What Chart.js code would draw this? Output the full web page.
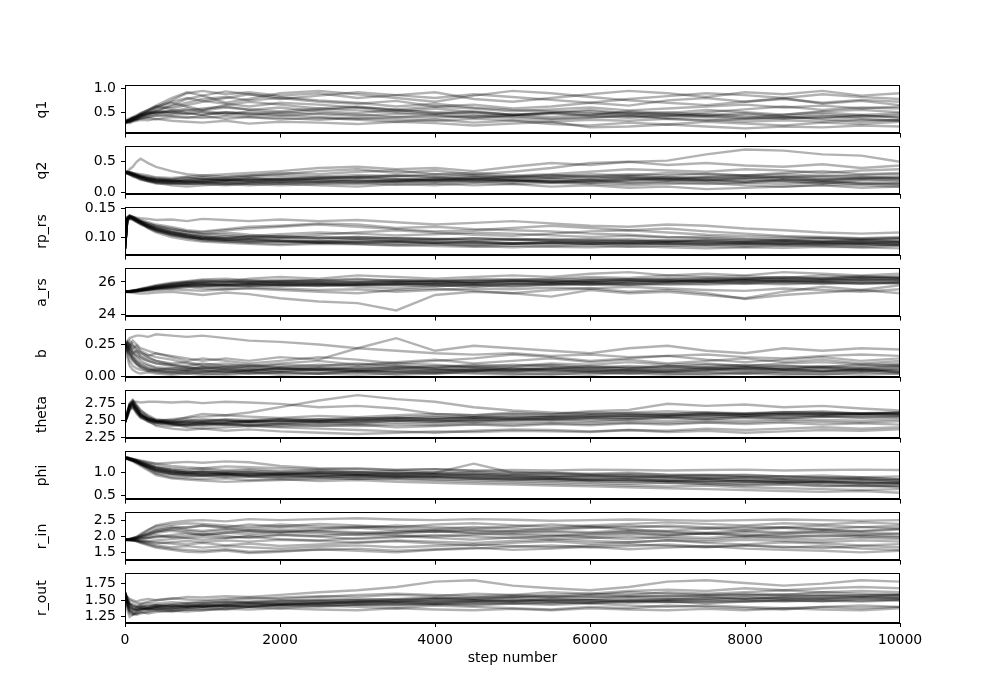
<!DOCTYPE html>
<html>
<head>
<meta charset="utf-8">
<script src="https://cdn.jsdelivr.net/npm/chart.js@4/dist/chart.umd.min.js"></script>
<style>
html,body{margin:0;padding:0;background:#fff;}
#wrap{position:relative;width:1000px;height:700px;overflow:hidden;background:#fff;}
canvas{position:absolute;left:0;}
</style>
</head>
<body>
<div id="wrap"></div>
<script>
// ---- data ----
const steps = [0,30,60,100,150,200,300,400,600,800,1000,1300,1600,2000,2500,3000,3500,4000,4500,5000,5500,6000,6500,7000,7500,8000,8500,9000,9500,10000];
const names = ["q1","q2","rp_rs","a_rs","b","theta","phi","r_in","r_out"];
const yMin = [0.049,-0.029,0.0673,23.87,-0.012,2.232,0.41,1.24,1.157];
const yMax = [1.066,0.749,0.1522,26.83,0.369,2.95,1.47,2.764,1.904];
const yTicks = [[0.5,1.0],[0.0,0.5],[0.10,0.15],[24,26],[0.00,0.25],[2.25,2.50,2.75],[0.5,1.0],[1.5,2.0,2.5],[1.25,1.50,1.75]];
const yTickLabels = [["0.5","1.0"],["0.0","0.5"],["0.10","0.15"],["24","26"],["0.00","0.25"],["2.25","2.50","2.75"],["0.5","1.0"],["1.5","2.0","2.5"],["1.25","1.50","1.75"]];
const xTicks = [0,2000,4000,6000,8000,10000];
const xTickLabels = ["0","2000","4000","6000","8000","10000"];
const xLabel = "step number";

const q1 = [
[0.30,0.32,0.35,0.38,0.42,0.45,0.52,0.60,0.75,0.90,0.95,0.88,0.92,0.85,0.90,0.80,0.86,0.92,0.78,0.72,0.80,0.88,0.95,0.90,0.82,0.92,0.88,0.95,0.85,0.90],
[0.28,0.30,0.33,0.36,0.40,0.43,0.48,0.55,0.62,0.70,0.78,0.82,0.75,0.80,0.72,0.68,0.74,0.62,0.66,0.58,0.62,0.70,0.64,0.75,0.80,0.72,0.78,0.70,0.76,0.72],
[0.31,0.33,0.32,0.35,0.38,0.42,0.45,0.50,0.55,0.52,0.58,0.62,0.55,0.60,0.52,0.48,0.55,0.50,0.45,0.42,0.48,0.44,0.50,0.46,0.42,0.38,0.45,0.50,0.44,0.48],
[0.27,0.29,0.31,0.33,0.36,0.38,0.40,0.42,0.45,0.48,0.44,0.50,0.46,0.42,0.48,0.45,0.40,0.43,0.38,0.42,0.36,0.40,0.44,0.38,0.42,0.45,0.40,0.37,0.42,0.40],
[0.32,0.30,0.34,0.37,0.35,0.40,0.46,0.52,0.65,0.78,0.85,0.70,0.78,0.90,0.95,0.88,0.80,0.72,0.85,0.95,0.90,0.82,0.75,0.70,0.65,0.72,0.80,0.68,0.74,0.65],
[0.29,0.31,0.30,0.32,0.34,0.36,0.38,0.35,0.40,0.38,0.42,0.36,0.40,0.35,0.38,0.34,0.30,0.34,0.28,0.32,0.25,0.22,0.28,0.24,0.30,0.26,0.22,0.28,0.25,0.30],
[0.30,0.28,0.31,0.34,0.39,0.44,0.50,0.58,0.70,0.62,0.55,0.65,0.72,0.66,0.58,0.62,0.55,0.48,0.52,0.45,0.50,0.55,0.48,0.42,0.50,0.56,0.62,0.55,0.60,0.58],
[0.26,0.28,0.27,0.30,0.32,0.34,0.33,0.36,0.32,0.30,0.28,0.32,0.26,0.30,0.28,0.25,0.30,0.27,0.22,0.26,0.30,0.18,0.20,0.24,0.20,0.16,0.20,0.18,0.22,0.20],
[0.33,0.35,0.37,0.40,0.44,0.48,0.55,0.62,0.58,0.65,0.72,0.80,0.88,0.82,0.75,0.70,0.62,0.68,0.60,0.55,0.52,0.48,0.42,0.45,0.40,0.35,0.38,0.42,0.36,0.33],
[0.30,0.31,0.29,0.33,0.37,0.41,0.47,0.50,0.48,0.55,0.50,0.45,0.52,0.48,0.55,0.60,0.52,0.58,0.50,0.45,0.40,0.45,0.52,0.48,0.55,0.50,0.45,0.52,0.55,0.50],
[0.30,0.31,0.33,0.36,0.40,0.44,0.48,0.52,0.50,0.46,0.52,0.48,0.44,0.50,0.46,0.42,0.47,0.44,0.40,0.44,0.48,0.42,0.38,0.42,0.46,0.40,0.36,0.40,0.44,0.38],
[0.29,0.30,0.32,0.34,0.37,0.40,0.44,0.47,0.52,0.58,0.54,0.60,0.56,0.52,0.58,0.54,0.50,0.46,0.50,0.44,0.48,0.52,0.46,0.50,0.44,0.48,0.42,0.46,0.40,0.44],
[0.31,0.32,0.34,0.37,0.41,0.46,0.54,0.62,0.72,0.80,0.74,0.68,0.62,0.70,0.66,0.60,0.56,0.62,0.58,0.52,0.56,0.60,0.54,0.58,0.62,0.66,0.60,0.64,0.58,0.62],
[0.28,0.29,0.30,0.32,0.35,0.37,0.40,0.44,0.42,0.40,0.38,0.42,0.40,0.38,0.34,0.38,0.35,0.32,0.36,0.33,0.30,0.34,0.32,0.36,0.34,0.30,0.33,0.30,0.34,0.32],
[0.30,0.32,0.34,0.38,0.42,0.47,0.55,0.64,0.80,0.92,0.85,0.94,0.88,0.78,0.85,0.92,0.86,0.80,0.88,0.82,0.76,0.70,0.78,0.84,0.90,0.86,0.80,0.88,0.82,0.78],
[0.32,0.33,0.35,0.38,0.40,0.44,0.50,0.48,0.52,0.48,0.45,0.50,0.48,0.44,0.40,0.36,0.40,0.38,0.42,0.38,0.35,0.38,0.42,0.36,0.32,0.36,0.40,0.35,0.30,0.34]
];
const q2 = [
[0.34,0.35,0.38,0.42,0.50,0.55,0.48,0.42,0.35,0.30,0.28,0.30,0.32,0.35,0.40,0.42,0.38,0.40,0.35,0.42,0.48,0.45,0.50,0.52,0.62,0.70,0.68,0.62,0.60,0.50],
[0.33,0.32,0.30,0.28,0.26,0.25,0.22,0.20,0.18,0.20,0.22,0.25,0.28,0.30,0.35,0.38,0.32,0.36,0.30,0.34,0.40,0.48,0.50,0.45,0.48,0.44,0.42,0.46,0.40,0.44],
[0.32,0.31,0.30,0.27,0.25,0.22,0.18,0.15,0.14,0.16,0.18,0.15,0.17,0.20,0.18,0.22,0.20,0.24,0.20,0.18,0.22,0.20,0.16,0.18,0.20,0.22,0.18,0.15,0.20,0.18],
[0.34,0.33,0.31,0.29,0.28,0.26,0.24,0.22,0.20,0.18,0.20,0.22,0.20,0.24,0.22,0.26,0.28,0.25,0.28,0.24,0.26,0.30,0.28,0.32,0.30,0.28,0.32,0.35,0.30,0.32],
[0.33,0.34,0.32,0.30,0.27,0.24,0.20,0.16,0.12,0.10,0.12,0.14,0.12,0.15,0.12,0.10,0.14,0.12,0.16,0.14,0.10,0.12,0.08,0.10,0.06,0.08,0.10,0.12,0.08,0.10],
[0.32,0.33,0.34,0.32,0.30,0.28,0.26,0.24,0.22,0.25,0.22,0.20,0.24,0.22,0.26,0.24,0.28,0.26,0.22,0.26,0.24,0.22,0.26,0.24,0.20,0.24,0.26,0.22,0.25,0.22],
[0.33,0.32,0.33,0.31,0.29,0.27,0.23,0.21,0.20,0.18,0.16,0.18,0.20,0.18,0.22,0.20,0.18,0.16,0.20,0.22,0.18,0.16,0.20,0.26,0.22,0.18,0.22,0.20,0.16,0.14],
[0.34,0.33,0.31,0.30,0.28,0.25,0.22,0.19,0.17,0.15,0.14,0.12,0.15,0.18,0.16,0.14,0.18,0.22,0.25,0.20,0.16,0.18,0.22,0.20,0.24,0.26,0.22,0.20,0.24,0.26],
[0.33,0.34,0.33,0.32,0.31,0.30,0.28,0.25,0.24,0.26,0.28,0.26,0.28,0.32,0.30,0.34,0.36,0.30,0.32,0.28,0.30,0.34,0.38,0.36,0.34,0.38,0.36,0.32,0.36,0.38],
[0.32,0.31,0.29,0.26,0.24,0.21,0.19,0.17,0.16,0.14,0.15,0.17,0.14,0.12,0.14,0.16,0.13,0.15,0.12,0.14,0.16,0.14,0.12,0.14,0.16,0.12,0.10,0.13,0.12,0.10],
[0.33,0.32,0.31,0.29,0.27,0.25,0.21,0.19,0.18,0.20,0.19,0.21,0.19,0.22,0.20,0.18,0.21,0.19,0.22,0.20,0.18,0.21,0.19,0.22,0.20,0.18,0.21,0.19,0.22,0.20],
[0.34,0.33,0.32,0.30,0.28,0.26,0.23,0.21,0.19,0.17,0.19,0.21,0.23,0.21,0.24,0.26,0.23,0.21,0.24,0.26,0.28,0.25,0.27,0.24,0.26,0.28,0.25,0.28,0.26,0.24],
[0.32,0.31,0.30,0.28,0.26,0.23,0.20,0.18,0.15,0.14,0.16,0.14,0.16,0.15,0.17,0.19,0.17,0.19,0.17,0.20,0.18,0.20,0.23,0.21,0.18,0.16,0.19,0.17,0.14,0.16],
[0.33,0.33,0.32,0.31,0.29,0.27,0.24,0.22,0.21,0.23,0.25,0.23,0.26,0.28,0.26,0.29,0.27,0.30,0.28,0.26,0.29,0.27,0.30,0.28,0.31,0.28,0.30,0.27,0.29,0.30],
[0.34,0.32,0.30,0.28,0.25,0.23,0.19,0.17,0.16,0.18,0.17,0.19,0.18,0.16,0.18,0.17,0.19,0.21,0.19,0.17,0.19,0.17,0.15,0.17,0.14,0.16,0.14,0.17,0.15,0.13],
[0.33,0.34,0.33,0.31,0.28,0.26,0.22,0.20,0.19,0.21,0.23,0.20,0.22,0.20,0.23,0.25,0.22,0.20,0.23,0.21,0.24,0.26,0.24,0.22,0.25,0.23,0.26,0.24,0.22,0.24]
];
const rp_rs = [
[0.078,0.135,0.138,0.136,0.134,0.133,0.132,0.130,0.131,0.128,0.132,0.130,0.128,0.131,0.128,0.130,0.126,0.122,0.125,0.128,0.124,0.120,0.118,0.122,0.120,0.115,0.112,0.108,0.106,0.108],
[0.080,0.132,0.136,0.134,0.130,0.128,0.124,0.120,0.115,0.110,0.108,0.112,0.115,0.118,0.122,0.118,0.114,0.110,0.112,0.116,0.120,0.116,0.112,0.115,0.110,0.106,0.102,0.100,0.098,0.100],
[0.079,0.130,0.134,0.132,0.128,0.125,0.118,0.112,0.105,0.100,0.098,0.095,0.097,0.094,0.092,0.095,0.093,0.090,0.092,0.089,0.091,0.090,0.088,0.090,0.091,0.089,0.087,0.089,0.090,0.088],
[0.081,0.128,0.133,0.131,0.127,0.124,0.120,0.116,0.110,0.105,0.102,0.098,0.100,0.102,0.098,0.100,0.097,0.095,0.098,0.096,0.094,0.096,0.094,0.092,0.095,0.093,0.094,0.092,0.095,0.093],
[0.078,0.134,0.137,0.135,0.131,0.126,0.115,0.108,0.100,0.095,0.092,0.090,0.088,0.086,0.088,0.087,0.085,0.087,0.084,0.082,0.084,0.086,0.083,0.085,0.084,0.083,0.085,0.084,0.082,0.085],
[0.080,0.131,0.135,0.133,0.129,0.127,0.122,0.118,0.112,0.108,0.105,0.108,0.104,0.100,0.104,0.108,0.112,0.108,0.104,0.102,0.106,0.110,0.112,0.108,0.104,0.102,0.100,0.098,0.096,0.098],
[0.079,0.133,0.136,0.134,0.130,0.126,0.119,0.114,0.106,0.101,0.097,0.095,0.092,0.094,0.090,0.092,0.094,0.092,0.090,0.088,0.090,0.092,0.090,0.088,0.086,0.088,0.090,0.088,0.086,0.087],
[0.081,0.129,0.132,0.130,0.126,0.122,0.116,0.110,0.104,0.099,0.096,0.094,0.096,0.093,0.091,0.089,0.091,0.088,0.086,0.088,0.090,0.088,0.090,0.092,0.089,0.091,0.089,0.091,0.089,0.091],
[0.078,0.135,0.138,0.136,0.133,0.130,0.126,0.122,0.118,0.112,0.110,0.114,0.118,0.120,0.124,0.122,0.116,0.118,0.114,0.112,0.110,0.106,0.104,0.100,0.098,0.096,0.094,0.096,0.094,0.096],
[0.080,0.130,0.134,0.132,0.128,0.123,0.117,0.111,0.103,0.098,0.094,0.092,0.090,0.088,0.090,0.088,0.086,0.084,0.083,0.085,0.083,0.082,0.084,0.082,0.080,0.082,0.081,0.083,0.082,0.080],
[0.080,0.133,0.136,0.134,0.130,0.126,0.118,0.112,0.104,0.100,0.097,0.099,0.096,0.098,0.095,0.097,0.094,0.096,0.093,0.095,0.093,0.091,0.093,0.091,0.093,0.090,0.092,0.090,0.092,0.090],
[0.079,0.131,0.135,0.133,0.129,0.125,0.120,0.114,0.108,0.103,0.100,0.102,0.099,0.101,0.098,0.100,0.098,0.096,0.098,0.095,0.097,0.095,0.096,0.094,0.096,0.094,0.095,0.093,0.094,0.092],
[0.081,0.134,0.137,0.135,0.131,0.127,0.121,0.115,0.108,0.102,0.096,0.093,0.091,0.092,0.090,0.091,0.089,0.090,0.088,0.089,0.087,0.088,0.087,0.089,0.087,0.088,0.086,0.087,0.088,0.086],
[0.078,0.132,0.136,0.134,0.131,0.128,0.123,0.119,0.114,0.110,0.106,0.104,0.101,0.098,0.100,0.097,0.099,0.097,0.095,0.097,0.095,0.093,0.092,0.094,0.092,0.091,0.093,0.091,0.090,0.091],
[0.080,0.130,0.134,0.132,0.128,0.124,0.118,0.113,0.107,0.104,0.101,0.098,0.102,0.105,0.108,0.106,0.103,0.105,0.108,0.106,0.103,0.100,0.102,0.099,0.101,0.098,0.097,0.099,0.097,0.098],
[0.079,0.133,0.137,0.135,0.132,0.128,0.121,0.116,0.109,0.104,0.099,0.096,0.094,0.092,0.093,0.091,0.092,0.090,0.091,0.089,0.090,0.088,0.089,0.087,0.088,0.086,0.088,0.086,0.087,0.085]
];
const a_rs = [
[25.40,25.38,25.35,25.33,25.30,25.28,25.30,25.35,25.40,25.30,25.20,25.35,25.25,25.00,24.80,24.70,24.25,25.20,25.40,25.30,25.10,25.50,25.30,25.40,25.20,25.00,25.40,25.70,25.50,25.80],
[25.42,25.40,25.42,25.45,25.50,25.55,25.65,25.75,25.90,26.00,26.10,26.00,26.20,26.30,26.20,26.40,26.30,26.20,26.30,26.40,26.30,26.50,26.60,26.40,26.50,26.40,26.60,26.50,26.40,26.50],
[25.40,25.41,25.43,25.46,25.48,25.52,25.60,25.68,25.75,25.82,25.90,25.80,25.85,25.95,25.90,25.80,25.85,25.90,25.95,26.00,25.95,26.05,26.10,26.00,26.15,26.10,26.20,26.15,26.25,26.20],
[25.38,25.39,25.40,25.42,25.45,25.48,25.55,25.62,25.70,25.80,25.75,25.70,25.80,25.75,25.85,25.70,25.60,25.75,25.80,25.70,25.85,25.90,25.80,25.95,26.00,25.90,26.05,26.00,25.90,25.95],
[25.41,25.40,25.38,25.40,25.42,25.46,25.52,25.58,25.64,25.70,25.60,25.55,25.65,25.60,25.50,25.55,25.40,25.50,25.60,25.55,25.65,25.60,25.70,25.60,25.50,25.45,25.60,25.50,25.40,25.55],
[25.40,25.42,25.44,25.48,25.52,25.58,25.70,25.80,25.95,26.05,26.15,26.20,26.10,26.00,26.10,26.20,26.05,26.10,26.00,26.10,26.20,26.30,26.25,26.40,26.30,26.35,26.25,26.40,26.30,26.35],
[25.39,25.38,25.40,25.41,25.43,25.45,25.50,25.55,25.60,25.68,25.75,25.85,25.90,25.80,25.75,25.85,25.90,25.80,25.70,25.85,25.90,25.80,25.95,26.05,26.00,26.10,26.00,25.90,26.00,25.90],
[25.40,25.39,25.41,25.43,25.47,25.50,25.58,25.65,25.80,25.90,26.00,26.05,25.95,26.05,26.10,26.00,26.10,26.05,26.15,26.10,26.00,26.10,26.15,26.20,26.10,26.20,26.30,26.20,26.35,26.25],
[25.42,25.41,25.40,25.39,25.40,25.42,25.45,25.50,25.55,25.50,25.45,25.55,25.60,25.50,25.40,25.30,25.50,25.60,25.45,25.30,25.50,25.60,25.40,25.50,25.30,24.95,25.20,25.35,25.50,25.30],
[25.41,25.43,25.45,25.47,25.50,25.54,25.62,25.72,25.85,25.95,25.90,25.95,26.05,25.95,25.90,26.00,25.95,26.05,25.95,26.05,26.10,26.00,26.05,26.10,26.05,26.15,26.10,26.05,26.15,26.10],
[25.40,25.41,25.42,25.44,25.47,25.50,25.57,25.64,25.76,25.86,25.92,25.88,25.94,25.90,25.96,25.92,25.98,25.94,25.90,25.96,26.00,25.96,26.02,26.06,26.02,26.08,26.04,26.10,26.06,26.12],
[25.41,25.40,25.41,25.43,25.46,25.49,25.55,25.62,25.72,25.80,25.85,25.82,25.88,25.84,25.80,25.86,25.82,25.88,25.92,25.88,25.94,25.98,25.94,26.00,26.04,26.00,26.06,26.10,26.14,26.08],
[25.39,25.40,25.42,25.45,25.49,25.53,25.61,25.70,25.82,25.92,25.98,26.02,25.98,26.04,26.00,25.96,26.02,25.98,26.04,26.08,26.04,26.10,26.14,26.10,26.16,26.20,26.16,26.22,26.18,26.24],
[25.40,25.39,25.40,25.42,25.44,25.47,25.53,25.60,25.68,25.76,25.82,25.78,25.74,25.80,25.76,25.82,25.78,25.74,25.80,25.76,25.82,25.86,25.82,25.88,25.84,25.90,25.86,25.92,25.88,25.94],
[25.41,25.42,25.43,25.46,25.50,25.55,25.64,25.74,25.88,25.98,26.05,26.10,26.06,26.12,26.08,26.14,26.10,26.06,26.12,26.18,26.14,26.20,26.16,26.22,26.26,26.22,26.28,26.24,26.30,26.26],
[25.40,25.41,25.41,25.43,25.46,25.48,25.54,25.60,25.70,25.78,25.72,25.80,25.76,25.84,25.88,25.84,25.90,25.86,25.82,25.88,25.84,25.92,25.88,25.84,25.90,25.96,25.92,25.98,25.94,26.00]
];
const b = [
[0.25,0.28,0.30,0.31,0.32,0.32,0.31,0.33,0.32,0.31,0.32,0.30,0.28,0.27,0.25,0.22,0.20,0.18,0.17,0.18,0.16,0.17,0.15,0.16,0.17,0.15,0.14,0.16,0.17,0.16],
[0.24,0.26,0.22,0.28,0.25,0.22,0.20,0.18,0.16,0.14,0.12,0.14,0.12,0.15,0.13,0.22,0.30,0.20,0.24,0.22,0.20,0.18,0.22,0.24,0.20,0.18,0.22,0.20,0.22,0.21],
[0.26,0.22,0.18,0.15,0.12,0.10,0.08,0.06,0.05,0.04,0.05,0.03,0.04,0.06,0.04,0.03,0.05,0.04,0.06,0.04,0.03,0.05,0.04,0.03,0.05,0.04,0.06,0.04,0.03,0.05],
[0.25,0.20,0.24,0.18,0.20,0.16,0.14,0.12,0.10,0.11,0.09,0.10,0.08,0.10,0.12,0.09,0.11,0.13,0.10,0.12,0.14,0.11,0.13,0.10,0.12,0.14,0.11,0.13,0.10,0.12],
[0.24,0.15,0.08,0.05,0.03,0.02,0.03,0.02,0.01,0.02,0.01,0.02,0.03,0.01,0.02,0.01,0.02,0.03,0.02,0.01,0.02,0.01,0.03,0.02,0.01,0.02,0.01,0.02,0.01,0.02],
[0.25,0.27,0.25,0.22,0.24,0.20,0.17,0.15,0.13,0.10,0.08,0.07,0.06,0.05,0.07,0.06,0.08,0.06,0.05,0.07,0.09,0.07,0.06,0.08,0.07,0.09,0.08,0.07,0.09,0.08],
[0.26,0.24,0.20,0.16,0.12,0.09,0.06,0.04,0.03,0.02,0.03,0.04,0.02,0.03,0.02,0.04,0.03,0.02,0.04,0.03,0.05,0.03,0.02,0.04,0.03,0.02,0.04,0.03,0.05,0.03],
[0.25,0.23,0.26,0.24,0.20,0.18,0.16,0.18,0.15,0.12,0.14,0.12,0.10,0.12,0.15,0.13,0.10,0.12,0.14,0.17,0.15,0.12,0.14,0.16,0.13,0.11,0.13,0.15,0.12,0.14],
[0.24,0.18,0.12,0.08,0.06,0.05,0.04,0.05,0.06,0.05,0.07,0.05,0.04,0.06,0.05,0.04,0.06,0.05,0.04,0.05,0.07,0.05,0.04,0.06,0.05,0.07,0.05,0.06,0.04,0.06],
[0.25,0.26,0.28,0.25,0.22,0.19,0.15,0.12,0.09,0.07,0.06,0.08,0.07,0.09,0.08,0.10,0.08,0.07,0.09,0.08,0.10,0.09,0.11,0.09,0.10,0.08,0.10,0.11,0.09,0.10],
[0.25,0.21,0.16,0.12,0.09,0.07,0.05,0.04,0.03,0.04,0.03,0.05,0.04,0.03,0.05,0.04,0.03,0.05,0.04,0.06,0.04,0.03,0.05,0.04,0.06,0.05,0.03,0.04,0.06,0.04],
[0.24,0.25,0.22,0.19,0.15,0.12,0.09,0.07,0.06,0.07,0.05,0.06,0.08,0.06,0.05,0.07,0.06,0.08,0.07,0.05,0.06,0.08,0.07,0.05,0.07,0.06,0.08,0.07,0.05,0.07],
[0.26,0.23,0.19,0.14,0.10,0.07,0.04,0.03,0.02,0.03,0.02,0.01,0.02,0.03,0.02,0.03,0.01,0.02,0.03,0.02,0.01,0.03,0.02,0.01,0.02,0.03,0.02,0.01,0.03,0.02],
[0.25,0.27,0.24,0.21,0.18,0.15,0.12,0.10,0.09,0.08,0.10,0.08,0.09,0.07,0.09,0.08,0.10,0.09,0.07,0.09,0.08,0.06,0.08,0.07,0.09,0.08,0.06,0.08,0.07,0.09],
[0.24,0.20,0.17,0.13,0.10,0.08,0.06,0.05,0.04,0.05,0.04,0.03,0.05,0.04,0.06,0.05,0.04,0.03,0.05,0.04,0.06,0.04,0.05,0.03,0.04,0.06,0.05,0.04,0.05,0.03],
[0.26,0.24,0.21,0.18,0.16,0.14,0.12,0.10,0.08,0.06,0.07,0.06,0.05,0.07,0.06,0.05,0.07,0.06,0.08,0.06,0.05,0.07,0.06,0.08,0.06,0.07,0.05,0.07,0.06,0.08]
];
const theta = [
[2.48,2.60,2.72,2.78,2.78,2.77,2.78,2.78,2.77,2.78,2.76,2.78,2.77,2.75,2.70,2.72,2.68,2.60,2.58,2.62,2.60,2.64,2.66,2.75,2.72,2.74,2.70,2.72,2.68,2.65],
[2.48,2.62,2.75,2.80,2.72,2.65,2.58,2.52,2.50,2.55,2.60,2.58,2.62,2.70,2.80,2.88,2.82,2.78,2.70,2.65,2.62,2.60,2.62,2.64,2.62,2.60,2.62,2.64,2.60,2.62],
[2.47,2.58,2.70,2.74,2.65,2.58,2.52,2.48,2.46,2.48,2.45,2.47,2.50,2.48,2.52,2.50,2.54,2.52,2.55,2.53,2.56,2.55,2.58,2.57,2.60,2.58,2.60,2.59,2.61,2.60],
[2.48,2.55,2.66,2.72,2.62,2.55,2.48,2.44,2.42,2.44,2.46,2.44,2.42,2.45,2.48,2.46,2.50,2.48,2.52,2.50,2.53,2.55,2.54,2.56,2.55,2.57,2.56,2.58,2.57,2.58],
[2.49,2.60,2.73,2.76,2.68,2.60,2.50,2.42,2.38,2.36,2.38,2.35,2.37,2.34,2.32,2.30,2.32,2.34,2.33,2.35,2.34,2.33,2.36,2.35,2.38,2.36,2.38,2.40,2.38,2.40],
[2.48,2.57,2.68,2.70,2.60,2.54,2.50,2.47,2.48,2.50,2.52,2.50,2.48,2.50,2.47,2.49,2.52,2.50,2.48,2.51,2.53,2.50,2.52,2.54,2.52,2.55,2.53,2.56,2.54,2.55],
[2.47,2.63,2.76,2.81,2.74,2.66,2.56,2.50,2.46,2.42,2.44,2.46,2.43,2.45,2.42,2.44,2.40,2.42,2.44,2.42,2.45,2.43,2.46,2.44,2.47,2.45,2.47,2.44,2.46,2.44],
[2.48,2.59,2.71,2.75,2.66,2.58,2.53,2.50,2.49,2.47,2.49,2.51,2.49,2.52,2.50,2.53,2.55,2.57,2.55,2.58,2.57,2.59,2.60,2.59,2.61,2.60,2.62,2.61,2.60,2.61],
[2.48,2.61,2.74,2.78,2.70,2.62,2.55,2.50,2.45,2.40,2.38,2.40,2.42,2.40,2.38,2.36,2.34,2.32,2.35,2.37,2.36,2.34,2.36,2.33,2.35,2.32,2.34,2.36,2.35,2.37],
[2.48,2.56,2.65,2.70,2.63,2.57,2.52,2.49,2.52,2.54,2.56,2.58,2.56,2.54,2.57,2.55,2.58,2.60,2.58,2.60,2.59,2.62,2.61,2.60,2.62,2.61,2.63,2.62,2.61,2.62],
[2.48,2.60,2.72,2.76,2.67,2.59,2.52,2.49,2.47,2.49,2.48,2.50,2.48,2.50,2.49,2.51,2.50,2.52,2.51,2.53,2.52,2.54,2.55,2.56,2.57,2.56,2.58,2.57,2.59,2.58],
[2.47,2.58,2.70,2.74,2.65,2.57,2.51,2.48,2.46,2.45,2.47,2.46,2.48,2.47,2.49,2.48,2.50,2.49,2.51,2.52,2.51,2.53,2.52,2.54,2.53,2.55,2.54,2.56,2.55,2.56],
[2.48,2.62,2.74,2.79,2.70,2.61,2.54,2.51,2.50,2.51,2.50,2.52,2.51,2.53,2.52,2.54,2.53,2.55,2.54,2.56,2.55,2.57,2.58,2.57,2.59,2.58,2.60,2.59,2.60,2.59],
[2.49,2.57,2.68,2.72,2.64,2.56,2.49,2.46,2.44,2.43,2.45,2.44,2.46,2.44,2.46,2.45,2.47,2.46,2.48,2.47,2.49,2.48,2.50,2.49,2.51,2.50,2.52,2.51,2.50,2.52],
[2.48,2.61,2.73,2.77,2.69,2.60,2.53,2.49,2.48,2.46,2.48,2.47,2.49,2.51,2.50,2.52,2.54,2.53,2.55,2.54,2.56,2.58,2.57,2.59,2.58,2.60,2.59,2.61,2.60,2.62],
[2.48,2.59,2.71,2.75,2.66,2.58,2.51,2.47,2.45,2.44,2.42,2.44,2.43,2.41,2.43,2.42,2.44,2.43,2.45,2.44,2.46,2.45,2.47,2.46,2.48,2.47,2.49,2.48,2.47,2.49]
];
const phi = [
[1.32,1.33,1.31,1.30,1.28,1.26,1.22,1.20,1.22,1.24,1.22,1.25,1.23,1.15,1.10,1.08,1.06,1.08,1.05,1.06,1.05,1.07,1.06,1.05,1.06,1.07,1.05,1.06,1.07,1.06],
[1.33,1.32,1.30,1.28,1.25,1.22,1.15,1.08,1.02,1.00,1.02,0.98,1.00,0.96,0.98,0.95,0.97,0.94,0.96,0.92,0.90,0.88,0.90,0.86,0.88,0.84,0.86,0.82,0.84,0.80],
[1.32,1.30,1.28,1.26,1.22,1.18,1.10,1.00,0.95,0.92,0.94,0.90,0.92,0.88,0.90,0.86,0.88,0.85,0.84,0.82,0.80,0.78,0.76,0.78,0.75,0.72,0.74,0.70,0.72,0.68],
[1.34,1.33,1.32,1.30,1.27,1.25,1.20,1.15,1.10,1.08,1.10,1.06,1.08,1.04,1.06,1.02,1.04,1.00,1.02,0.98,1.00,0.96,0.98,0.95,0.96,0.94,0.92,0.94,0.90,0.92],
[1.31,1.30,1.29,1.27,1.23,1.18,1.08,0.98,0.90,0.88,0.86,0.88,0.84,0.86,0.82,0.84,0.80,0.78,0.76,0.74,0.72,0.70,0.68,0.66,0.64,0.62,0.60,0.58,0.60,0.56],
[1.33,1.34,1.32,1.31,1.29,1.27,1.24,1.20,1.15,1.12,1.10,1.14,1.12,1.10,1.08,1.10,1.06,1.08,1.04,1.02,1.00,0.98,1.00,0.96,0.94,0.96,0.92,0.90,0.88,0.86],
[1.32,1.31,1.30,1.28,1.24,1.20,1.12,1.04,0.98,0.96,0.98,0.95,0.97,0.94,0.92,0.94,0.90,0.92,0.90,0.88,0.86,0.84,0.86,0.82,0.80,0.82,0.78,0.80,0.76,0.78],
[1.34,1.32,1.31,1.29,1.26,1.23,1.18,1.12,1.06,1.03,1.00,1.02,1.00,0.98,1.00,0.97,0.95,0.97,0.94,0.92,0.90,0.92,0.88,0.90,0.86,0.84,0.82,0.80,0.78,0.76],
[1.33,1.31,1.28,1.25,1.20,1.15,1.05,0.95,0.88,0.85,0.83,0.80,0.82,0.84,0.86,0.88,0.85,0.83,0.80,0.78,0.76,0.74,0.72,0.70,0.72,0.68,0.66,0.64,0.62,0.64],
[1.32,1.33,1.31,1.29,1.26,1.22,1.16,1.10,1.04,1.00,0.96,0.98,0.94,0.96,1.00,1.02,0.98,1.00,1.20,1.00,0.98,0.96,0.94,0.92,0.94,0.90,0.92,0.88,0.90,0.86],
[1.33,1.32,1.30,1.28,1.25,1.21,1.14,1.06,1.00,0.98,0.96,0.98,0.95,0.97,0.94,0.96,0.93,0.95,0.92,0.90,0.88,0.86,0.84,0.82,0.84,0.80,0.82,0.78,0.80,0.78],
[1.32,1.31,1.29,1.27,1.24,1.20,1.13,1.07,1.02,0.99,1.01,0.98,0.96,0.99,0.97,0.95,0.93,0.91,0.89,0.87,0.86,0.84,0.85,0.82,0.83,0.81,0.79,0.81,0.78,0.76],
[1.34,1.33,1.31,1.29,1.26,1.22,1.16,1.10,1.04,1.00,1.03,1.00,1.02,0.99,1.01,0.98,1.00,0.97,0.98,0.95,0.93,0.94,0.91,0.92,0.89,0.90,0.87,0.88,0.85,0.84],
[1.33,1.32,1.31,1.28,1.24,1.19,1.11,1.03,0.97,0.94,0.92,0.94,0.91,0.93,0.90,0.92,0.89,0.90,0.87,0.85,0.83,0.81,0.80,0.78,0.76,0.74,0.76,0.72,0.70,0.72],
[1.32,1.33,1.32,1.30,1.27,1.24,1.18,1.12,1.07,1.04,1.06,1.03,1.05,1.02,1.04,1.01,0.99,1.01,0.98,0.96,0.94,0.92,0.94,0.90,0.88,0.90,0.86,0.84,0.86,0.82],
[1.33,1.31,1.29,1.27,1.23,1.19,1.12,1.05,0.99,0.96,0.94,0.96,0.93,0.91,0.93,0.90,0.92,0.89,0.87,0.85,0.87,0.83,0.81,0.83,0.79,0.77,0.79,0.75,0.73,0.70]
];
const r_in = [
[1.90,1.91,1.92,1.94,1.98,2.05,2.20,2.35,2.45,2.50,2.52,2.48,2.55,2.52,2.55,2.58,2.54,2.52,2.55,2.53,2.50,2.52,2.54,2.52,2.50,2.52,2.54,2.52,2.50,2.52],
[1.90,1.89,1.90,1.88,1.86,1.82,1.75,1.68,1.62,1.58,1.55,1.60,1.52,1.55,1.58,1.62,1.55,1.60,1.65,1.58,1.62,1.68,1.60,1.65,1.70,1.62,1.58,1.55,1.50,1.55],
[1.91,1.90,1.92,1.93,1.95,1.98,2.05,2.15,2.25,2.30,2.35,2.30,2.38,2.32,2.40,2.35,2.30,2.38,2.42,2.36,2.30,2.35,2.40,2.45,2.40,2.35,2.42,2.38,2.45,2.40],
[1.89,1.90,1.89,1.91,1.90,1.92,1.95,2.00,2.05,2.10,2.05,2.12,2.08,2.15,2.10,2.05,2.12,2.18,2.10,2.05,2.00,2.08,2.12,2.05,2.10,2.02,2.08,2.12,2.05,2.10],
[1.90,1.91,1.90,1.89,1.88,1.86,1.84,1.82,1.78,1.75,1.80,1.72,1.78,1.70,1.75,1.80,1.85,1.78,1.72,1.80,1.85,1.78,1.82,1.88,1.80,1.75,1.82,1.78,1.72,1.76],
[1.90,1.91,1.92,1.95,1.98,2.02,2.10,2.20,2.28,2.22,2.18,2.25,2.20,2.15,2.22,2.28,2.20,2.15,2.22,2.18,2.25,2.30,2.22,2.18,2.25,2.20,2.28,2.22,2.18,2.25],
[1.91,1.90,1.91,1.90,1.92,1.94,1.96,1.98,2.00,1.95,1.90,1.95,2.00,1.92,1.88,1.95,2.02,1.96,1.90,1.98,1.92,1.95,2.00,1.94,1.90,1.98,1.94,1.90,1.96,1.92],
[1.90,1.89,1.88,1.87,1.85,1.80,1.72,1.65,1.58,1.52,1.50,1.56,1.48,1.52,1.60,1.55,1.50,1.58,1.62,1.68,1.72,1.66,1.70,1.75,1.68,1.72,1.65,1.70,1.62,1.58],
[1.90,1.91,1.93,1.96,2.00,2.08,2.22,2.32,2.38,2.42,2.40,2.35,2.30,2.38,2.32,2.28,2.35,2.30,2.25,2.32,2.38,2.32,2.28,2.35,2.30,2.25,2.30,2.35,2.30,2.26],
[1.90,1.90,1.91,1.92,1.93,1.95,1.98,2.05,1.98,2.02,2.08,2.02,1.95,2.05,2.00,1.92,1.98,2.05,2.00,1.95,2.02,1.98,1.92,2.00,1.96,2.02,1.98,2.04,2.00,1.98],
[1.90,1.91,1.91,1.93,1.96,2.00,2.08,2.16,2.22,2.18,2.14,2.20,2.16,2.12,2.18,2.14,2.10,2.16,2.12,2.18,2.14,2.10,2.16,2.12,2.08,2.14,2.10,2.16,2.12,2.08],
[1.90,1.89,1.89,1.88,1.87,1.85,1.82,1.78,1.82,1.86,1.82,1.88,1.84,1.90,1.86,1.82,1.88,1.84,1.80,1.86,1.90,1.86,1.82,1.88,1.84,1.90,1.86,1.82,1.88,1.84],
[1.91,1.91,1.92,1.94,1.97,2.02,2.12,2.24,2.32,2.28,2.34,2.28,2.24,2.30,2.26,2.32,2.28,2.24,2.30,2.26,2.22,2.28,2.34,2.30,2.26,2.32,2.28,2.24,2.30,2.34],
[1.89,1.90,1.90,1.89,1.89,1.88,1.86,1.88,1.92,1.96,2.00,1.96,2.02,2.06,2.02,2.08,2.04,2.00,2.06,2.10,2.06,2.02,2.08,2.04,2.10,2.06,2.02,2.00,2.04,2.00],
[1.90,1.90,1.89,1.88,1.86,1.83,1.78,1.72,1.66,1.70,1.65,1.70,1.66,1.62,1.68,1.72,1.66,1.70,1.75,1.70,1.66,1.72,1.76,1.70,1.66,1.72,1.68,1.64,1.70,1.66],
[1.90,1.91,1.92,1.93,1.95,1.98,2.04,2.12,2.18,2.12,2.06,2.12,2.18,2.22,2.16,2.10,2.16,2.22,2.18,2.12,2.18,2.14,2.20,2.16,2.12,2.18,2.14,2.20,2.16,2.22]
];
const r_out = [
[1.60,1.55,1.50,1.48,1.46,1.45,1.48,1.50,1.52,1.55,1.54,1.56,1.55,1.58,1.62,1.65,1.70,1.78,1.80,1.72,1.68,1.65,1.70,1.78,1.80,1.76,1.72,1.75,1.80,1.78],
[1.62,1.45,1.35,1.30,1.28,1.30,1.32,1.35,1.33,1.36,1.38,1.36,1.40,1.38,1.42,1.40,1.38,1.42,1.40,1.38,1.36,1.40,1.38,1.42,1.40,1.38,1.36,1.40,1.38,1.40],
[1.61,1.52,1.45,1.42,1.40,1.42,1.40,1.42,1.40,1.43,1.41,1.44,1.46,1.45,1.48,1.50,1.48,1.52,1.50,1.53,1.50,1.52,1.55,1.53,1.55,1.52,1.55,1.57,1.55,1.58],
[1.60,1.40,1.30,1.28,1.32,1.35,1.38,1.36,1.38,1.40,1.42,1.40,1.43,1.46,1.44,1.47,1.50,1.48,1.50,1.48,1.52,1.50,1.48,1.50,1.52,1.55,1.53,1.52,1.55,1.53],
[1.62,1.50,1.42,1.38,1.36,1.38,1.36,1.38,1.36,1.38,1.40,1.42,1.40,1.44,1.46,1.48,1.50,1.52,1.54,1.56,1.58,1.60,1.58,1.62,1.60,1.62,1.65,1.62,1.64,1.62],
[1.61,1.35,1.25,1.28,1.30,1.32,1.34,1.35,1.34,1.36,1.35,1.37,1.36,1.38,1.36,1.35,1.38,1.36,1.35,1.37,1.35,1.38,1.36,1.35,1.37,1.35,1.38,1.36,1.35,1.38],
[1.60,1.55,1.52,1.50,1.48,1.50,1.52,1.50,1.53,1.51,1.50,1.52,1.54,1.52,1.55,1.58,1.60,1.58,1.56,1.58,1.55,1.58,1.62,1.60,1.58,1.60,1.58,1.62,1.60,1.58],
[1.62,1.48,1.40,1.36,1.35,1.36,1.38,1.40,1.42,1.40,1.44,1.46,1.48,1.50,1.48,1.45,1.47,1.45,1.48,1.50,1.48,1.46,1.50,1.48,1.45,1.48,1.50,1.48,1.52,1.50],
[1.60,1.42,1.32,1.30,1.30,1.32,1.30,1.32,1.34,1.33,1.35,1.38,1.40,1.42,1.40,1.43,1.42,1.44,1.42,1.45,1.43,1.45,1.42,1.40,1.42,1.40,1.38,1.40,1.42,1.40],
[1.61,1.50,1.45,1.44,1.42,1.44,1.46,1.45,1.47,1.46,1.48,1.50,1.52,1.54,1.56,1.55,1.58,1.56,1.60,1.58,1.62,1.60,1.64,1.66,1.64,1.68,1.65,1.68,1.70,1.68],
[1.61,1.48,1.40,1.37,1.36,1.38,1.39,1.41,1.40,1.42,1.41,1.43,1.45,1.44,1.46,1.48,1.47,1.49,1.50,1.49,1.51,1.50,1.52,1.51,1.53,1.52,1.54,1.53,1.55,1.54],
[1.60,1.45,1.38,1.36,1.38,1.40,1.38,1.40,1.42,1.41,1.43,1.42,1.44,1.43,1.45,1.47,1.46,1.48,1.47,1.49,1.48,1.50,1.49,1.51,1.50,1.52,1.51,1.53,1.52,1.54],
[1.62,1.52,1.44,1.40,1.39,1.41,1.43,1.42,1.44,1.46,1.45,1.47,1.46,1.48,1.50,1.52,1.51,1.53,1.52,1.54,1.56,1.55,1.57,1.56,1.58,1.57,1.59,1.58,1.57,1.59],
[1.61,1.42,1.34,1.32,1.34,1.36,1.37,1.39,1.38,1.40,1.39,1.41,1.40,1.42,1.44,1.43,1.45,1.44,1.46,1.45,1.47,1.46,1.48,1.47,1.49,1.48,1.50,1.49,1.48,1.50],
[1.60,1.50,1.44,1.41,1.40,1.39,1.41,1.43,1.42,1.44,1.46,1.48,1.47,1.49,1.51,1.50,1.52,1.54,1.53,1.55,1.54,1.56,1.55,1.57,1.56,1.58,1.57,1.56,1.58,1.57],
[1.62,1.46,1.36,1.33,1.35,1.37,1.36,1.38,1.37,1.39,1.40,1.42,1.41,1.43,1.42,1.44,1.43,1.45,1.44,1.46,1.45,1.47,1.46,1.48,1.47,1.49,1.48,1.50,1.49,1.51]
];
const chains = [q1,q2,rp_rs,a_rs,b,theta,phi,r_in,r_out];

// ---- layout / style ----
const FONT = {family: "'DejaVu Sans', sans-serif", size: 14};
const PANEL_TOP0 = 84, PANEL_STEP = 61.02, PANEL_H = 51, PAD_TOP = 12;
const frame = {
  id: 'frame',
  afterDraw(chart) {
    const a = chart.chartArea, c = chart.ctx;
    c.save();
    c.strokeStyle = '#000';
    c.lineWidth = 1;
    c.strokeRect(Math.round(a.left) + 0.5, Math.round(a.top) + 0.5, Math.round(a.right - a.left) - 1, Math.round(a.bottom - a.top) - 1);
    c.restore();
  }
};

const wrap = document.getElementById('wrap');
names.forEach((name, p) => {
  const isLast = p === names.length - 1;
  const xH = isLast ? 50 : 12;
  const top = Math.round(PANEL_TOP0 + p * PANEL_STEP);
  const cv = document.createElement('canvas');
  cv.width = 1000;
  cv.height = PAD_TOP + PANEL_H + xH;
  cv.style.top = (top - PAD_TOP) + 'px';
  wrap.appendChild(cv);
  const datasets = chains[p].map(w => ({
    data: steps.map((s, i) => ({x: s, y: w[i]})),
    borderColor: 'rgba(0,0,0,0.3)',
    borderWidth: 2.4,
    pointRadius: 0,
    tension: 0,
    fill: false
  }));
  new Chart(cv, {
    type: 'line',
    data: {datasets},
    options: {
      animation: false,
      responsive: false,
      devicePixelRatio: 1,
      layout: {padding: {top: PAD_TOP, right: 100, left: 0, bottom: 0}},
      plugins: {legend: {display: false}, tooltip: {enabled: false}},
      scales: {
        x: {
          type: 'linear', min: 0, max: 10000,
          afterBuildTicks: s => { s.ticks = xTicks.map(v => ({value: v})); },
          afterFit: s => { s.height = xH; },
          ticks: {
            display: isLast, autoSkip: false, maxRotation: 0, color: '#000', font: FONT, padding: 5,
            callback: v => xTickLabels[xTicks.indexOf(v)]
          },
          grid: {drawOnChartArea: false, tickLength: 4, color: '#000', lineWidth: 1},
          border: {color: '#000', width: 1},
          title: {display: isLast, text: xLabel, color: '#000', font: FONT, padding: {top: 0, bottom: 6.6}}
        },
        y: {
          type: 'linear', min: yMin[p], max: yMax[p],
          afterBuildTicks: s => { s.ticks = yTicks[p].map(v => ({value: v})); },
          afterFit: s => { s.width = 125; },
          ticks: {
            color: '#000', font: FONT, padding: 5,
            callback: v => yTickLabels[p][yTicks[p].indexOf(v)]
          },
          grid: {drawOnChartArea: false, tickLength: 4, color: '#000', lineWidth: 1},
          border: {color: '#000', width: 1},
          title: {display: true, text: name, color: '#000', font: FONT, padding: {top: 33.6, bottom: 0}}
        }
      }
    },
    plugins: [frame]
  });
});
</script>
</body>
</html>
